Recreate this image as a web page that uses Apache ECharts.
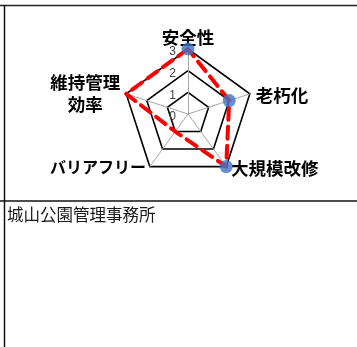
<!DOCTYPE html>
<html><head><meta charset="utf-8">
<style>html,body{margin:0;padding:0;background:#fff}#c{width:357px;height:347px}</style>
<script src="https://cdn.jsdelivr.net/npm/echarts@6/dist/echarts.min.js"></script>
</head><body><div id="c"></div>
<script>
// Indicators in ECharts order (counter-clockwise from top)
const categories = ['安全性', '維持管理効率', 'バリアフリー', '大規模改修', '老朽化'];
const displayNames = ['安全性', '維持管理\n効率　', 'バリアフリー', '大規模改修', '老朽化'];
const lineValues = [3, 3, 1, 3, 2];
const markerValues = [3, null, null, 3, 2];
const maxValue = 3;
const tickLabels = ['0', '1', '2', '3'];
const footerText = '城山公園管理事務所';

const CENTER = [188, 114];
const RADIUS = 65;
const FONT = '"Noto Sans CJK JP", "Noto Sans", sans-serif';
const richKeys = ['a', 'b', 'c', 'd', 'e'];

const chart = echarts.init(document.getElementById('c'), null, {renderer: 'canvas'});
const nameIndex = {};
categories.forEach((c, i) => nameIndex[c] = i);

const base = {fontFamily: FONT, fontSize: 17.5, fontWeight: 'bold', color: '#000'};
const tickStyle = {fontSize: 12, color: '#404040', fontFamily: 'Liberation Sans, Arial'};

chart.setOption({
  animation: false,
  backgroundColor: '#fff',
  title: {
    text: footerText, left: 2, top: 201,
    textStyle: {fontFamily: FONT, fontSize: 16.5, fontWeight: 'normal', color: '#1a1a1a'}
  },
  graphic: [
    {type: 'line', shape: {x1: 0, y1: 5.5, x2: 357, y2: 5.5}, style: {stroke: '#222', lineWidth: 1.5}},
    {type: 'line', shape: {x1: 0, y1: 201, x2: 357, y2: 201}, style: {stroke: '#111', lineWidth: 1.5}},
    {type: 'line', shape: {x1: 4.5, y1: 5, x2: 4.5, y2: 347}, style: {stroke: '#111', lineWidth: 1.5}}
  ],
  radar: {
    center: CENTER,
    radius: RADIUS,
    startAngle: 90,
    shape: 'polygon',
    splitNumber: 3,
    axisNameGap: 3,
    indicator: categories.map((c, i) => ({
      name: c, min: 0, max: maxValue,
      axisLabel: i === 0 ? {show: true} : {show: false}
    })),
    axisName: Object.assign({}, base, {
      formatter: (name) => {
        const i = nameIndex[name];
        return displayNames[i].split('\n').map(s => '{' + richKeys[i] + '|' + s + '}').join('\n');
      },
      rich: {
        a: Object.assign({}, base),
        b: Object.assign({}, base, {lineHeight: 22, padding: [0, 3, 0, 0]}),
        c: Object.assign({}, base, {fontSize: 16, padding: [0, 2, 4, 0]}),
        d: Object.assign({}, base, {padding: [0, 0, 2, 3]}),
        e: Object.assign({}, base, {padding: [4, 0, 0, 3]})
      }
    }),
    axisLabel: Object.assign({}, tickStyle, {
      show: false,
      margin: 12,
      formatter: (v) => '{t|' + tickLabels[Math.round(v)] + '}',
      rich: {t: Object.assign({}, tickStyle, {padding: [6, 0, 0, 0]})}
    }),
    axisLine: {lineStyle: {color: '#a6a6a6', width: 1}},
    splitLine: {lineStyle: {color: '#000', width: 1.6}},
    splitArea: {show: false},
    axisTick: {show: false}
  },
  polar: {center: CENTER, radius: RADIUS},
  angleAxis: {
    type: 'category', data: categories, boundaryGap: false,
    startAngle: 90, clockwise: false, show: false
  },
  radiusAxis: {type: 'value', min: 0, max: maxValue, show: false},
  series: [
    {
      type: 'radar',
      symbol: 'none',
      lineStyle: {color: '#ff0000', width: 4, type: [12, 7], cap: 'round'},
      data: [{value: lineValues}]
    },
    {
      type: 'scatter',
      coordinateSystem: 'polar',
      symbol: 'circle',
      symbolSize: 13,
      itemStyle: {color: '#3d73c4'},
      data: categories.map((c, i) => markerValues[i] == null ? null : [markerValues[i], c]).filter(d => d)
    }
  ]
});
</script></body></html>
